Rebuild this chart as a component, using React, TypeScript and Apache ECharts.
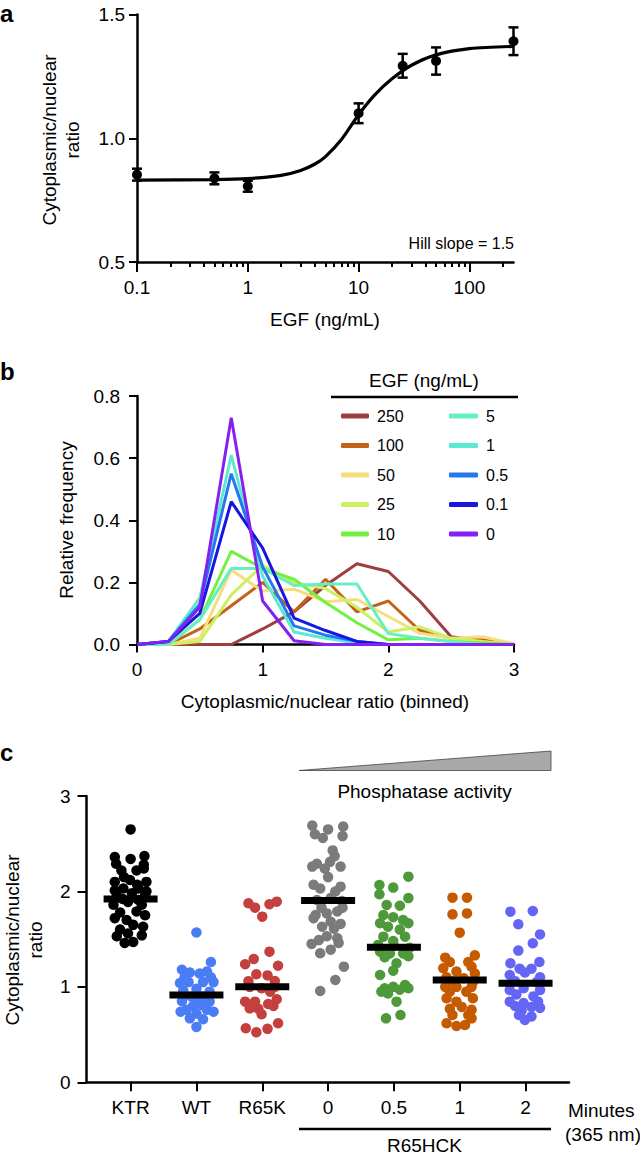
import React, { useEffect, useRef } from "react";
import * as echarts from "echarts";

const FONT = '"Liberation Sans", Arial, Helvetica, sans-serif';

// ---------- Panel a ----------
const doseEGF = [0.1, 0.5, 1, 10, 25, 50, 250];
const ratioMean = [0.853, 0.838, 0.806, 1.101, 1.293, 1.312, 1.392];
const ratioErr = [0.024, 0.024, 0.022, 0.04, 0.048, 0.055, 0.056];
const fitDose = [0.1, 0.5, 1, 2, 3, 4, 5, 7, 10, 14, 20, 30, 50, 100, 250];
const fitRatio = [0.831, 0.833, 0.837, 0.85, 0.87, 0.895, 0.925, 0.995, 1.095, 1.175, 1.24, 1.295, 1.337, 1.362, 1.371];
const doseTicks = [0.1, 1, 10, 100];
const doseTickLabels = ["0.1", "1", "10", "100"];
const doseMinorTicks = [0.2, 0.3, 0.4, 0.5, 0.6, 0.7, 0.8, 0.9, 2, 3, 4, 5, 6, 7, 8, 9, 20, 30, 40, 50, 60, 70, 80, 90, 200];

// ---------- Panel b ----------
const bins = [0, 0.25, 0.5, 0.75, 1, 1.25, 1.5, 1.75, 2, 2.25, 2.5, 2.75, 3];
const egfLevels = ["250", "100", "50", "25", "10", "5", "1", "0.5", "0.1", "0"];
const egfColors = ["#9E3E3E", "#C4621C", "#F6DE7C", "#CDF062", "#74F040", "#66F0C2", "#5CE8D4", "#2478EE", "#1616E0", "#8420F0"];
const freq250 = [0, 0, 0, 0, 0.05, 0.105, 0.19, 0.26, 0.235, 0.14, 0.025, 0.012, 0];
const freq100 = [0, 0, 0.05, 0.125, 0.2, 0.105, 0.21, 0.105, 0.14, 0.045, 0.02, 0.015, 0];
const freq50 = [0, 0, 0.02, 0.24, 0.172, 0.178, 0.138, 0.145, 0.09, 0.036, 0.02, 0.025, 0.003];
const freq25 = [0, 0, 0.01, 0.16, 0.255, 0.2, 0.18, 0.12, 0.04, 0.057, 0.02, 0.01, 0];
const freq10 = [0, 0, 0.08, 0.3, 0.245, 0.21, 0.135, 0.07, 0.015, 0.02, 0.01, 0.005, 0];
const freq5 = [0, 0, 0.08, 0.245, 0.245, 0.19, 0.195, 0.195, 0.035, 0.02, 0.01, 0, 0];
const freq1 = [0, 0.01, 0.15, 0.61, 0.22, 0.04, 0.02, 0.005, 0, 0, 0, 0, 0];
const freq05 = [0, 0.01, 0.13, 0.55, 0.25, 0.06, 0.03, 0.01, 0, 0, 0, 0, 0];
const freq01 = [0, 0.01, 0.1, 0.46, 0.31, 0.085, 0.045, 0.01, 0, 0, 0, 0, 0];
const freq0 = [0, 0.01, 0.12, 0.73, 0.14, 0.012, 0, 0, 0, 0, 0, 0, 0];
const freqSeries = [freq250, freq100, freq50, freq25, freq10, freq5, freq1, freq05, freq01, freq0];

// ---------- Panel c ----------
const groupLabels = ["KTR", "WT", "R65K", "0", "0.5", "1", "2"];
const groupColors = ["#000000", "#4A7CF5", "#C4403F", "#7B7B7B", "#4E9A3B", "#C65A00", "#6565F5"];
const groupMedians = [1.92, 0.915, 1.0, 1.905, 1.415, 1.072, 1.038];
// [horizontal jitter, ratio]
const dotsKTR = [
  [0, 2.65], [-0.24, 2.36], [0.0, 2.34], [0.21, 2.37], [-0.22, 2.29], [0.2, 2.28],
  [-0.14, 2.22], [0.09, 2.22], [0.2, 2.24], [-0.1, 2.15], [0.1, 2.07], [-0.24, 2.1],
  [-0.01, 2.12], [0.24, 2.1], [-0.11, 2.03], [0.12, 2.03], [-0.24, 2.01], [0.24, 2.0],
  [-0.21, 1.96], [0.22, 1.96], [0.02, 1.98], [-0.12, 1.92], [0.12, 1.91], [-0.04, 1.89],
  [-0.26, 1.86], [0.17, 1.86], [-0.16, 1.78], [0.09, 1.79], [0.22, 1.75], [-0.24, 1.72],
  [-0.06, 1.7], [0.04, 1.65], [0.19, 1.63], [-0.16, 1.6], [-0.21, 1.53], [-0.04, 1.56],
  [0.17, 1.54], [-0.09, 1.46], [0.04, 1.47],
];
const dotsWT = [
  [0, 1.57], [0.22, 1.26], [-0.22, 1.18], [-0.1, 1.15], [0.05, 1.14], [0.16, 1.16],
  [-0.18, 1.1], [0.22, 1.1], [-0.25, 1.04], [-0.12, 1.05], [0.1, 1.05], [0.26, 1.05],
  [-0.2, 0.96], [0.2, 0.95], [0, 0.98], [-0.08, 0.9], [0.1, 0.9], [-0.22, 0.85],
  [0, 0.85], [0.2, 0.845], [-0.05, 0.8], [0.08, 0.81], [-0.15, 0.76], [0.16, 0.76],
  [-0.24, 0.74], [0.26, 0.74], [0.0, 0.72], [-0.1, 0.67], [0.1, 0.66], [0, 0.58],
];
const dotsR65K = [
  [-0.21, 1.876], [-0.11, 1.83], [0, 1.736], [0.11, 1.866], [0.22, 1.893],
  [0.11, 1.369], [-0.26, 1.237], [-0.13, 1.292], [0.24, 1.222], [-0.09, 1.132],
  [0.08, 1.12], [0.19, 1.062], [-0.21, 1.06], [-0.01, 0.985], [0.12, 0.95],
  [-0.19, 1.0], [0.19, 1.0], [-0.26, 0.845], [-0.11, 0.845], [0.22, 0.87],
  [0.09, 0.82], [-0.19, 0.775], [-0.06, 0.77], [0.17, 0.8], [-0.01, 0.713],
  [-0.25, 0.566], [-0.09, 0.524], [0.08, 0.56], [0.24, 0.618],
];
const dotsHCK0 = [
  [-0.24, 2.69], [0.23, 2.68], [0, 2.65], [-0.2, 2.6], [-0.08, 2.56], [0.22, 2.58],
  [0.07, 2.43], [0.1, 2.37], [0.03, 2.31], [-0.17, 2.29], [-0.24, 2.26], [-0.05, 2.24],
  [0.19, 2.26], [0.0, 2.15], [-0.22, 2.07], [-0.12, 2.03], [0.19, 2.05], [0.11, 2.0],
  [-0.17, 1.91], [0.04, 1.93], [0.21, 1.9], [-0.1, 1.83], [0.22, 1.83], [-0.19, 1.753],
  [-0.02, 1.77], [0.14, 1.79], [-0.22, 1.72], [0.04, 1.683], [0.19, 1.66], [-0.09, 1.63],
  [0.09, 1.61], [-0.14, 1.49], [0.14, 1.51], [-0.02, 1.53], [-0.25, 1.45], [0.16, 1.46],
  [-0.12, 1.352], [0.04, 1.39], [0.24, 1.212], [0.11, 1.072], [-0.12, 0.957],
];
const dotsHCK05 = [
  [0.22, 2.155], [-0.22, 2.068], [-0.01, 2.04], [-0.22, 1.97], [0.22, 1.93], [-0.11, 1.858],
  [0.09, 1.85], [-0.16, 1.753], [-0.01, 1.73], [0.14, 1.7], [-0.21, 1.667], [0.22, 1.667],
  [-0.09, 1.63], [0.09, 1.6], [-0.16, 1.526], [0.17, 1.526], [-0.01, 1.48], [-0.24, 1.44],
  [0.24, 1.41], [0.0, 1.43], [-0.21, 1.369], [-0.06, 1.35], [0.14, 1.35], [0.22, 1.32],
  [-0.14, 1.31], [0.04, 1.247], [-0.01, 1.17], [-0.21, 1.125], [-0.14, 0.985], [-0.01, 1.0],
  [0.17, 1.02], [0.22, 0.985], [-0.19, 0.95], [0.09, 0.97], [-0.09, 0.93], [0.04, 0.845],
  [-0.12, 0.67], [0.1, 0.705],
];
const dotsHCK1 = [
  [-0.11, 1.935], [0.11, 1.935], [-0.11, 1.76], [0.11, 1.77], [0, 1.568], [-0.22, 1.306],
  [0.23, 1.33], [-0.15, 1.26], [0.13, 1.26], [-0.25, 1.195], [-0.05, 1.16], [0.18, 1.21],
  [0.23, 1.14], [-0.2, 1.1], [0.06, 1.09], [-0.12, 1.06], [0.2, 1.05], [-0.22, 1.0],
  [-0.05, 1.0], [0.18, 1.0], [-0.15, 0.95], [0.1, 0.95], [-0.2, 0.88], [0.2, 0.88],
  [-0.05, 0.845], [0.03, 0.79], [-0.15, 0.77], [0.18, 0.76], [-0.11, 0.705], [0.13, 0.705],
  [-0.2, 0.618], [-0.05, 0.59], [0.08, 0.6], [0.18, 0.67],
];
const dotsHCK2 = [
  [-0.23, 1.788], [0.11, 1.795], [-0.11, 1.656], [0.22, 1.55], [0.11, 1.457], [-0.11, 1.38],
  [-0.23, 1.247], [0.21, 1.26], [-0.09, 1.19], [0.09, 1.19], [-0.01, 1.15], [-0.24, 1.125],
  [0.22, 1.1], [-0.16, 1.06], [0.17, 1.05], [-0.24, 0.967], [-0.03, 0.985], [0.22, 0.967],
  [-0.14, 0.92], [0.12, 0.9], [-0.24, 0.845], [0.19, 0.845], [-0.03, 0.83], [-0.16, 0.8],
  [0.09, 0.79], [-0.06, 0.75], [0.22, 0.78], [-0.1, 0.705], [0.09, 0.69], [-0.01, 0.653],
];
const groupDots = [dotsKTR, dotsWT, dotsR65K, dotsHCK0, dotsHCK05, dotsHCK1, dotsHCK2];

const axisLineStyle = { color: "#000", width: 2.5 };
const labelStyle = { color: "#000", fontSize: 19, fontFamily: FONT };

function text(str: string, x: number, y: number, o: any = {}) {
  return {
    type: "text",
    x,
    y,
    rotation: o.rotation || 0,
    silent: true,
    style: {
      text: str,
      fill: "#000",
      fontSize: o.size || 19,
      fontFamily: FONT,
      fontWeight: o.weight || "normal",
      align: o.align || "center",
      textAlign: o.align || "center",
      verticalAlign: "middle",
      textVerticalAlign: "middle",
      lineHeight: o.lineHeight || 23,
    },
  };
}
function hline(x1: number, x2: number, y: number, w = 2.5) {
  return { type: "line", silent: true, shape: { x1, y1: y, x2, y2: y }, style: { stroke: "#000", lineWidth: w } };
}

export default function App() {
  const ref = useRef<HTMLDivElement>(null);
  useEffect(() => {
    if (!ref.current) return;
    const chart = echarts.init(ref.current, undefined, { renderer: "svg" });
    const lg = Math.log10;
    const xMaxA = lg(250);

    const option: any = {
      animation: false,
      textStyle: { fontFamily: FONT },
      grid: [
        { left: 137, right: 126.5, top: 14.5, bottom: 1155 - 262, containLabel: false },
        { left: 137, right: 126, top: 396, bottom: 1155 - 644.5, containLabel: false },
        { left: 86.5, right: 71, top: 796, bottom: 1155 - 1082.3, containLabel: false },
      ],
      xAxis: [
        {
          gridIndex: 0, type: "value", position: "bottom", min: -1, max: xMaxA,
          axisLine: { onZero: false, lineStyle: axisLineStyle },
          axisTick: { customValues: doseTicks.map(lg), length: 10, lineStyle: { width: 2, color: "#000" } },
          axisLabel: {
            customValues: doseTicks.map(lg), margin: 16, ...labelStyle,
            formatter: (v: number) => doseTickLabels[Math.round(v) + 1],
          },
          splitLine: { show: false },
        },
        {
          gridIndex: 0, type: "value", position: "bottom", min: -1, max: xMaxA,
          axisLine: { show: false, onZero: false },
          axisTick: { customValues: doseMinorTicks.map(lg), length: 5, lineStyle: { width: 2, color: "#000" } },
          axisLabel: { show: false },
          splitLine: { show: false },
        },
        {
          gridIndex: 1, type: "value", min: 0, max: 3, interval: 1,
          axisLine: { onZero: false, lineStyle: axisLineStyle },
          axisTick: { length: 8, lineStyle: { width: 2, color: "#000" } },
          axisLabel: { margin: 15, ...labelStyle },
          splitLine: { show: false },
        },
        {
          gridIndex: 2, type: "value", min: -0.67, max: 6.66,
          axisLine: { onZero: false, lineStyle: axisLineStyle },
          axisTick: { customValues: [0, 1, 2, 3, 4, 5, 6], length: 9, lineStyle: { width: 2, color: "#000" } },
          axisLabel: {
            customValues: [0, 1, 2, 3, 4, 5, 6], margin: 16, ...labelStyle,
            formatter: (v: number) => groupLabels[Math.round(v)],
          },
          splitLine: { show: false },
        },
      ],
      yAxis: [
        {
          gridIndex: 0, type: "value", min: 0.5, max: 1.5, interval: 0.5,
          axisLine: { show: true, onZero: false, lineStyle: axisLineStyle },
          axisTick: { show: true, length: 8, lineStyle: { width: 2, color: "#000" } },
          axisLabel: { margin: 12, ...labelStyle, formatter: (v: number) => v.toFixed(1) },
          splitLine: { show: false },
        },
        {
          gridIndex: 1, type: "value", min: 0, max: 0.8, interval: 0.2,
          axisLine: { show: true, onZero: false, lineStyle: axisLineStyle },
          axisTick: { show: true, length: 8, lineStyle: { width: 2, color: "#000" } },
          axisLabel: { margin: 17, ...labelStyle, formatter: (v: number) => v.toFixed(1) },
          splitLine: { show: false },
        },
        {
          gridIndex: 2, type: "value", min: 0, max: 3, interval: 1,
          axisLine: { show: true, onZero: false, lineStyle: axisLineStyle },
          axisTick: { show: true, length: 9, lineStyle: { width: 2, color: "#000" } },
          axisLabel: { margin: 16, ...labelStyle },
          splitLine: { show: false },
        },
      ],
      legend: [
        {
          left: 341, top: 408, orient: "vertical", padding: 0, itemGap: 13.5,
          itemWidth: 28, itemHeight: 5, icon: "roundRect", selectedMode: false,
          textStyle: { fontSize: 16, fontFamily: FONT, color: "#000", padding: [0, 0, 0, 3] },
          data: egfLevels.slice(0, 5),
        },
        {
          left: 449, top: 408, orient: "vertical", padding: 0, itemGap: 13.5,
          itemWidth: 29, itemHeight: 5, icon: "roundRect", selectedMode: false,
          textStyle: { fontSize: 16, fontFamily: FONT, color: "#000", padding: [0, 0, 0, 3] },
          data: egfLevels.slice(5),
        },
      ],
      series: [
        {
          type: "line", xAxisIndex: 0, yAxisIndex: 0, smooth: 0.3, showSymbol: false,
          lineStyle: { color: "#000", width: 3.2 }, itemStyle: { color: "#000" },
          data: fitDose.map((d, i) => [lg(d), fitRatio[i]]),
          z: 3,
        },
        {
          type: "custom", xAxisIndex: 0, yAxisIndex: 0,
          data: doseEGF.map((d, i) => [lg(d), ratioMean[i], ratioErr[i]]),
          encode: { x: 0, y: 1 },
          renderItem: (params: any, api: any) => {
            const x = api.value(0), y = api.value(1), e = api.value(2);
            const t = api.coord([x, y + e]);
            const b = api.coord([x, y - e]);
            const hw = 5;
            const st = { stroke: "#000", lineWidth: 2.5 };
            return {
              type: "group",
              children: [
                { type: "line", shape: { x1: t[0], y1: t[1], x2: b[0], y2: b[1] }, style: st },
                { type: "line", shape: { x1: t[0] - hw, y1: t[1], x2: t[0] + hw, y2: t[1] }, style: st },
                { type: "line", shape: { x1: b[0] - hw, y1: b[1], x2: b[0] + hw, y2: b[1] }, style: st },
              ],
            };
          },
          z: 4,
        },
        {
          type: "scatter", xAxisIndex: 0, yAxisIndex: 0, symbolSize: 10,
          itemStyle: { color: "#000", opacity: 1 },
          data: doseEGF.map((d, i) => [lg(d), ratioMean[i]]),
          z: 5,
        },
        ...egfLevels.map((name, k) => ({
          name, type: "line", xAxisIndex: 2, yAxisIndex: 1, showSymbol: false,
          color: egfColors[k],
          lineStyle: { color: egfColors[k], width: 3 },
          itemStyle: { color: egfColors[k] },
          data: bins.map((b, i) => [b, freqSeries[k][i]]),
        })),
        ...groupDots.map((dots, g) => ({
          type: "scatter", xAxisIndex: 3, yAxisIndex: 2, symbolSize: 10.5,
          itemStyle: { color: groupColors[g], opacity: 1 },
          data: dots.map(([dx, v]) => [g + dx, v]),
          z: 2,
        })),
        {
          type: "scatter", xAxisIndex: 3, yAxisIndex: 2, symbol: "rect", symbolSize: [54, 7],
          itemStyle: { color: "#000", opacity: 1 },
          data: groupMedians.map((m, g) => [g, m]),
          z: 5,
        },
      ],
      graphic: [
        text("a", 0, 13, { align: "left", weight: "bold", size: 24, lineHeight: 24 }),
        text("b", 0, 371, { align: "left", weight: "bold", size: 24, lineHeight: 24 }),
        text("c", 0, 752, { align: "left", weight: "bold", size: 24, lineHeight: 24 }),
        text("Cytoplasmic/nuclear\nratio", 61, 140, { rotation: Math.PI / 2 }),
        text("EGF (ng/mL)", 325, 319),
        text("Hill slope = 1.5", 514, 243, { align: "right", size: 16 }),
        text("Relative frequency", 66, 520, { rotation: Math.PI / 2 }),
        text("Cytoplasmic/nuclear ratio (binned)", 325, 701),
        text("EGF (ng/mL)", 424, 380),
        hline(331, 518, 397),
        text("Cytoplasmic/nuclear\nratio", 23.5, 940, { rotation: Math.PI / 2 }),
        {
          type: "polygon", silent: true,
          shape: { points: [[299, 770.5], [551, 770.5], [551, 751]] },
          style: { fill: "#A9A9A9", stroke: "#444", lineWidth: 0.8 },
        },
        text("Phosphatase activity", 424.5, 791),
        text("Minutes", 568, 1110, { align: "left" }),
        text("(365 nm)", 565, 1134.5, { align: "left" }),
        hline(299, 551, 1129),
        text("R65HCK", 424.5, 1145),
      ],
    };
    chart.setOption(option);
    return () => chart.dispose();
  }, []);
  return (
    <div
      ref={ref}
      style={{ position: "absolute", left: 0, top: 0, width: 640, height: 1155, background: "#fff" }}
    />
  );
}
